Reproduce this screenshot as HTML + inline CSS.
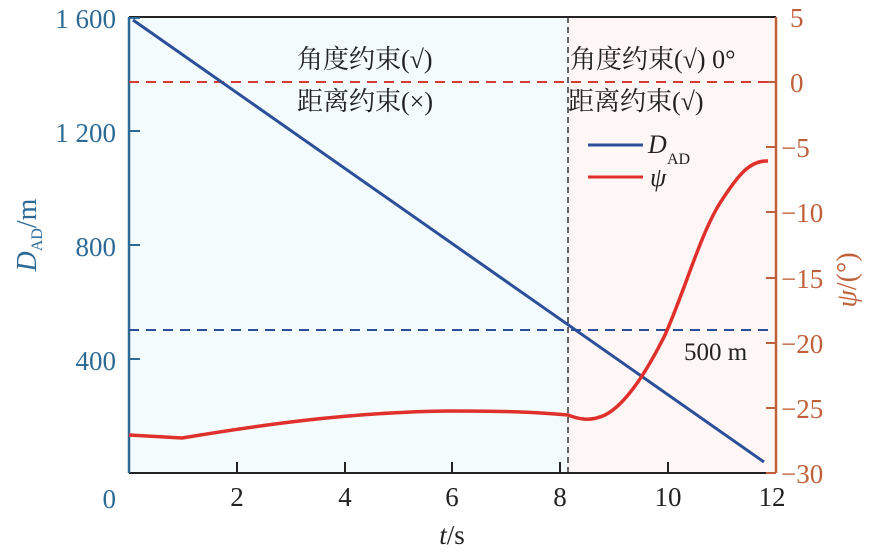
<!DOCTYPE html>
<html><head><meta charset="utf-8"><style>
body{margin:0;background:#fff}
svg text{font-family:"Liberation Serif","Noto Serif CJK SC",serif}
</style></head><body>
<svg width="885" height="550" viewBox="0 0 885 550" xmlns="http://www.w3.org/2000/svg">
<rect x="129" y="17" width="439" height="456" fill="#f3fbfc"/>
<rect x="568" y="17" width="208" height="456" fill="#fff6f6"/>
<line x1="129" y1="17" x2="776" y2="17" stroke="#222" stroke-width="2"/>
<line x1="129" y1="473" x2="776" y2="473" stroke="#222" stroke-width="2"/>
<g stroke="#222" stroke-width="2">
<line x1="237" y1="473" x2="237" y2="462"/><line x1="345" y1="473" x2="345" y2="462"/>
<line x1="452" y1="473" x2="452" y2="462"/><line x1="560" y1="473" x2="560" y2="462"/>
<line x1="668" y1="473" x2="668" y2="462"/>
</g>
<line x1="129" y1="17" x2="129" y2="473" stroke="#2e6a96" stroke-width="2.5"/>
<g stroke="#2e6a96" stroke-width="2"><line x1="129" y1="131" x2="140" y2="131"/><line x1="129" y1="245" x2="140" y2="245"/><line x1="129" y1="359" x2="140" y2="359"/><line x1="129" y1="18" x2="140" y2="18"/></g>
<line x1="776" y1="17" x2="776" y2="473" stroke="#c0603a" stroke-width="2.5"/>
<g stroke="#c0603a" stroke-width="2">
<line x1="766" y1="82" x2="776" y2="82"/><line x1="766" y1="147" x2="776" y2="147"/><line x1="766" y1="212" x2="776" y2="212"/><line x1="766" y1="278" x2="776" y2="278"/><line x1="766" y1="343" x2="776" y2="343"/><line x1="766" y1="408" x2="776" y2="408"/><line x1="766" y1="473" x2="776" y2="473"/>
</g>
<line x1="568" y1="17" x2="568" y2="473" stroke="#333" stroke-width="1.5" stroke-dasharray="6,4"/>
<line x1="129" y1="82" x2="770" y2="82" stroke="#d83a34" stroke-width="2" stroke-dasharray="10,7"/>
<line x1="129" y1="330" x2="770" y2="330" stroke="#2c4f9a" stroke-width="2" stroke-dasharray="10,7"/>
<line x1="133" y1="20" x2="764" y2="462" stroke="#2c4f9a" stroke-width="3"/>
<path d="M129,435 L182,438 C260,425 350,412 450,411 C520,411 545,413 568,415 C578,419 590,422 605,415 C625,405 645,375 665,335 C685,290 700,235 720,203 C738,175 750,160 768,161" fill="none" stroke="#e0302c" stroke-width="3.5"/>
<g font-size="26" fill="#222">
<text x="297" y="68">角度约束(√)</text>
<text x="297" y="110">距离约束(×)</text>
<text x="570" y="68">角度约束(√) 0°</text>
<text x="568" y="110">距离约束(√)</text>
<text x="684" y="360" font-size="25">500 m</text>
</g>
<line x1="588" y1="145" x2="643" y2="145" stroke="#2c4f9a" stroke-width="3"/>
<line x1="588" y1="177" x2="643" y2="177" stroke="#e0302c" stroke-width="3"/>
<text x="648" y="153" font-size="26" font-style="italic" fill="#222">D</text>
<text x="667" y="164" font-size="16" fill="#222">AD</text>
<text x="650" y="186" font-size="26" font-style="italic" fill="#222">ψ</text>
<g font-size="27" fill="#2e6a96" text-anchor="end">
<text x="116" y="28">1 600</text><text x="116" y="142">1 200</text><text x="116" y="256">800</text><text x="116" y="370">400</text><text x="116" y="508">0</text>
</g>
<g font-size="27" fill="#222" text-anchor="middle">
<text x="237" y="506">2</text><text x="345" y="506">4</text><text x="452" y="506">6</text><text x="560" y="506">8</text><text x="668" y="506">10</text><text x="772" y="506">12</text>
<text x="452" y="544"><tspan font-style="italic">t</tspan>/s</text>
</g>
<g font-size="27" fill="#c0603a" text-anchor="start">
<text x="790" y="27">5</text><text x="790" y="92">0</text><text x="781" y="157">−5</text><text x="781" y="222">−10</text><text x="781" y="288">−15</text><text x="781" y="353">−20</text><text x="781" y="418">−25</text><text x="781" y="483">−30</text>
</g>
<text transform="translate(36,235) rotate(-90)" font-size="28" fill="#2e6a96" text-anchor="middle"><tspan font-style="italic">D</tspan><tspan font-size="16" dy="6">AD</tspan><tspan dy="-6">/m</tspan></text>
<text transform="translate(856,280) rotate(-90)" font-size="28" fill="#c0603a" text-anchor="middle"><tspan font-style="italic">ψ</tspan>/(°)</text>
</svg>
</body></html>
